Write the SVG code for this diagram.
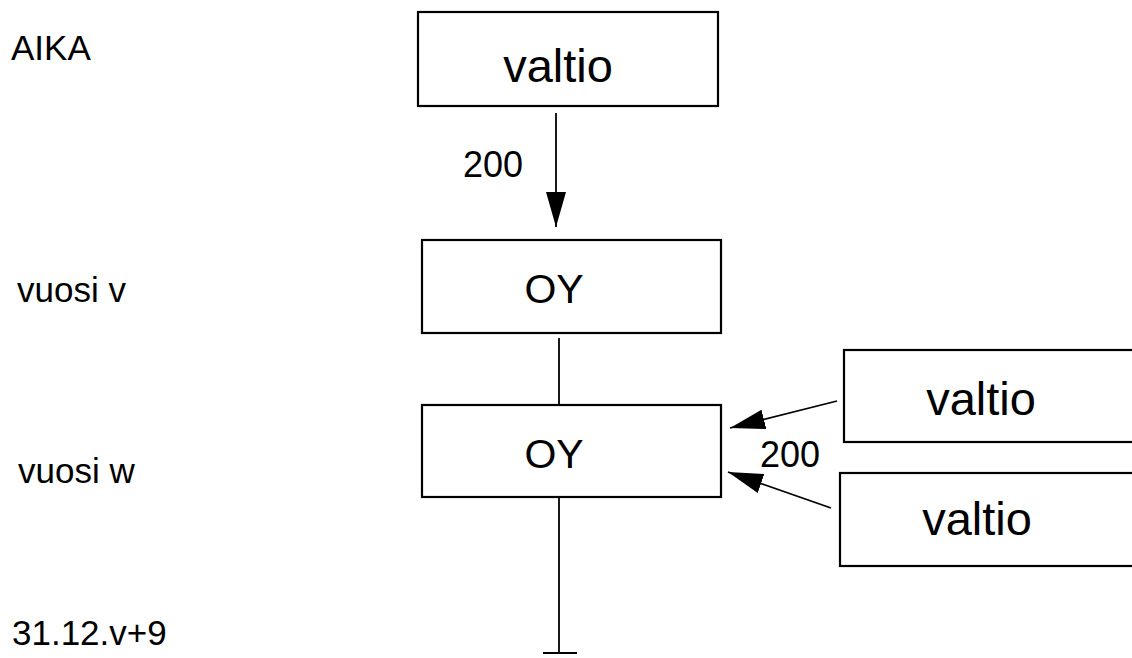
<svg xmlns="http://www.w3.org/2000/svg" width="1132" height="658" viewBox="0 0 1132 658">
<style>
  .box { fill: #fff; stroke: #000; stroke-width: 2.2; }
  .t { font-family: "Liberation Sans", Arial, sans-serif; fill: #000; }
  .lbl { font-size: 35px; }
  .big { font-size: 47px; text-anchor: middle; }
  .oy { font-size: 41px; text-anchor: middle; }
  .num { font-size: 36px; }
  .ln { stroke: #000; stroke-width: 1.8; fill: none; }
</style>
<defs>
  <marker id="ah" markerUnits="userSpaceOnUse" markerWidth="38" markerHeight="22" refX="35" refY="10" orient="auto">
    <path d="M0,0 L35,10 L0,20 z" fill="#000"/>
  </marker>
</defs>
<rect width="1132" height="658" fill="#fff"/>
<g id="time-labels">
  <text class="t lbl" x="11" y="60">AIKA</text>
  <text class="t lbl" x="17" y="302">vuosi v</text>
  <text class="t lbl" x="18" y="483">vuosi w</text>
  <text class="t lbl" x="12" y="645">31.12.v+9</text>
</g>
<g id="connectors">
  <line class="ln" x1="556" y1="113" x2="556" y2="227" marker-end="url(#ah)"/>
  <line class="ln" x1="559" y1="338" x2="559" y2="405"/>
  <line class="ln" x1="559" y1="497" x2="559" y2="653"/>
  <line class="ln" x1="543" y1="653" x2="577" y2="653"/>
  <line class="ln" x1="837" y1="401" x2="730" y2="428" marker-end="url(#ah)"/>
  <line class="ln" x1="831" y1="508" x2="728" y2="472" marker-end="url(#ah)"/>
  <text class="t num" x="463" y="177">200</text>
  <text class="t num" x="760" y="467">200</text>
</g>
<g id="valtio-top">
  <rect class="box" x="418" y="12" width="300" height="94"/>
  <text class="t big" x="558" y="82">valtio</text>
</g>
<g id="oy-v">
  <rect class="box" x="422" y="240" width="299" height="93"/>
  <text class="t oy" x="554" y="303">OY</text>
</g>
<g id="oy-w">
  <rect class="box" x="422" y="405" width="299" height="92"/>
  <text class="t oy" x="554" y="468">OY</text>
</g>
<g id="valtio-right-1">
  <rect class="box" x="844" y="350" width="300" height="92"/>
  <text class="t big" x="981" y="415">valtio</text>
</g>
<g id="valtio-right-2">
  <rect class="box" x="840" y="473" width="304" height="93"/>
  <text class="t big" x="977" y="535">valtio</text>
</g>
</svg>
